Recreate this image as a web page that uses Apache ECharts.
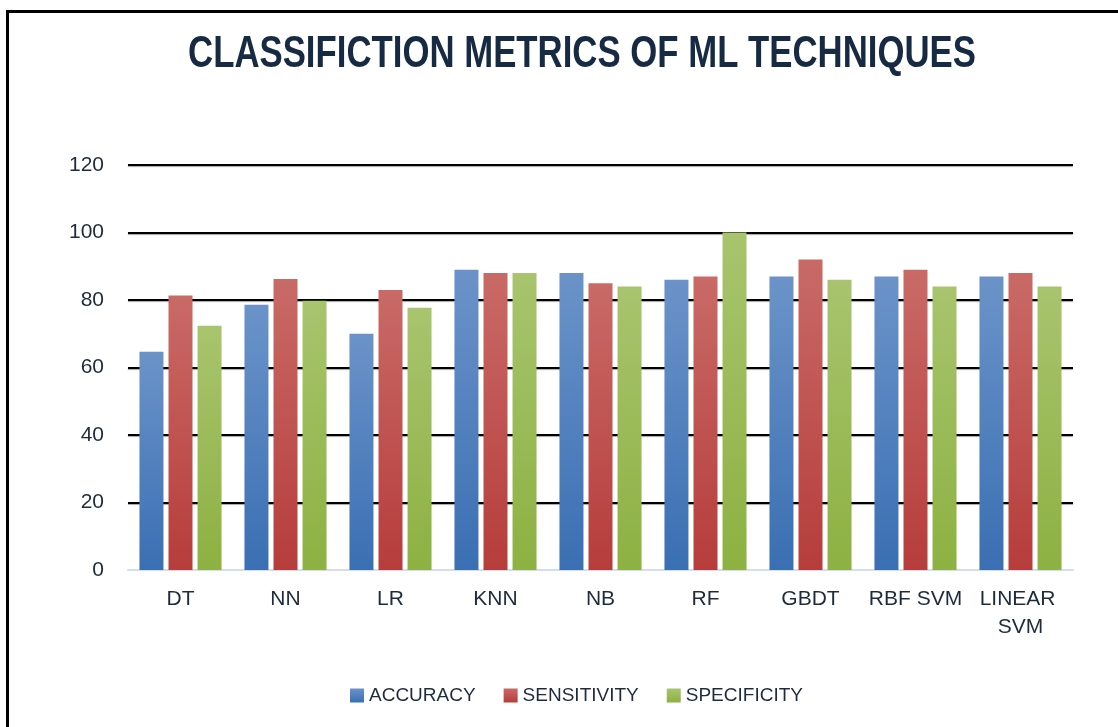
<!DOCTYPE html>
<html>
<head>
<meta charset="utf-8">
<style>
  html, body { margin: 0; padding: 0; background: #fff; }
  #chart { width: 1118px; height: 727px; }
</style>
<script src="https://cdn.jsdelivr.net/npm/echarts@6/dist/echarts.min.js"></script>
</head>
<body>
<div id="chart"></div>
<script>
const categories = ['DT', 'NN', 'LR', 'KNN', 'NB', 'RF', 'GBDT', 'RBF SVM', 'LINEAR SVM'];
const accuracy = [64.7, 78.6, 70, 89, 88, 86, 87, 87, 87];
const sensitivity = [81.3, 86.2, 83, 88, 85, 87, 92, 89, 88];
const specificity = [72.4, 79.8, 77.7, 88, 84, 100, 86, 84, 84];
const yTicks = { min: 0, max: 120, interval: 20 };
const titleText = 'CLASSIFICTION METRICS OF ML TECHNIQUES';

const FONT = '"Liberation Sans", Arial, sans-serif';
const TEXT = '#1E2B3C';

// vertical gradient, lighter at the top
function grad(top, bottom) {
  return new echarts.graphic.LinearGradient(0, 0, 0, 1, [
    { offset: 0, color: top },
    { offset: 1, color: bottom }
  ]);
}

function barSeries(name, data, top, bottom) {
  return {
    name: name,
    type: 'bar',
    data: data,
    barWidth: 24,
    barGap: '21%',
    itemStyle: { color: grad(top, bottom) }
  };
}

const chart = echarts.init(document.getElementById('chart'), null, { renderer: 'canvas' });

chart.setOption({
  backgroundColor: '#fff',
  animation: false,
  textStyle: { fontFamily: FONT },
  graphic: [
    {
      type: 'rect',
      shape: { x: 7.5, y: 11.5, width: 1300, height: 900 },
      style: { fill: 'none', stroke: '#000', lineWidth: 3 },
      silent: true
    },
    {
      // title drawn as graphic so it can be squeezed like a narrow face
      type: 'text',
      x: 582,
      y: 55,
      scaleX: 0.79,
      style: {
        text: titleText,
        x: 0,
        y: 0,
        align: 'center',
        verticalAlign: 'middle',
        font: 'bold 44px ' + FONT,
        fill: '#172A43'
      },
      silent: true
    }
  ],
  legend: {
    left: 345,
    top: 681,
    itemWidth: 14,
    itemHeight: 14,
    itemGap: 28,
    icon: 'rect',
    textStyle: { fontFamily: FONT, fontSize: 19, color: TEXT }
  },
  grid: { left: 128, right: 45, top: 165, bottom: 157, containLabel: false },
  xAxis: {
    type: 'category',
    data: categories,
    axisLine: { lineStyle: { color: '#D3DFF0', width: 2 } },
    axisTick: { show: false },
    axisLabel: {
      fontFamily: FONT,
      fontSize: 21,
      color: TEXT,
      margin: 15,
      lineHeight: 28,
      width: 100,
      overflow: 'break',
      interval: 0
    }
  },
  yAxis: {
    type: 'value',
    min: yTicks.min,
    max: yTicks.max,
    interval: yTicks.interval,
    axisLine: { show: false },
    axisTick: { show: false },
    axisLabel: { fontFamily: FONT, fontSize: 21, color: TEXT, margin: 24 },
    splitLine: {
      showMinLine: false,
      lineStyle: { color: '#000', width: 2, shadowColor: 'rgba(0,0,0,0.35)', shadowBlur: 1, shadowOffsetY: 1 }
    }
  },
  series: [
    barSeries('ACCURACY', accuracy, '#6B93C9', '#3A6FB3'),
    barSeries('SENSITIVITY', sensitivity, '#C96A67', '#B63D3B'),
    barSeries('SPECIFICITY', specificity, '#A8C46E', '#8DB142')
  ]
});
</script>
</body>
</html>
